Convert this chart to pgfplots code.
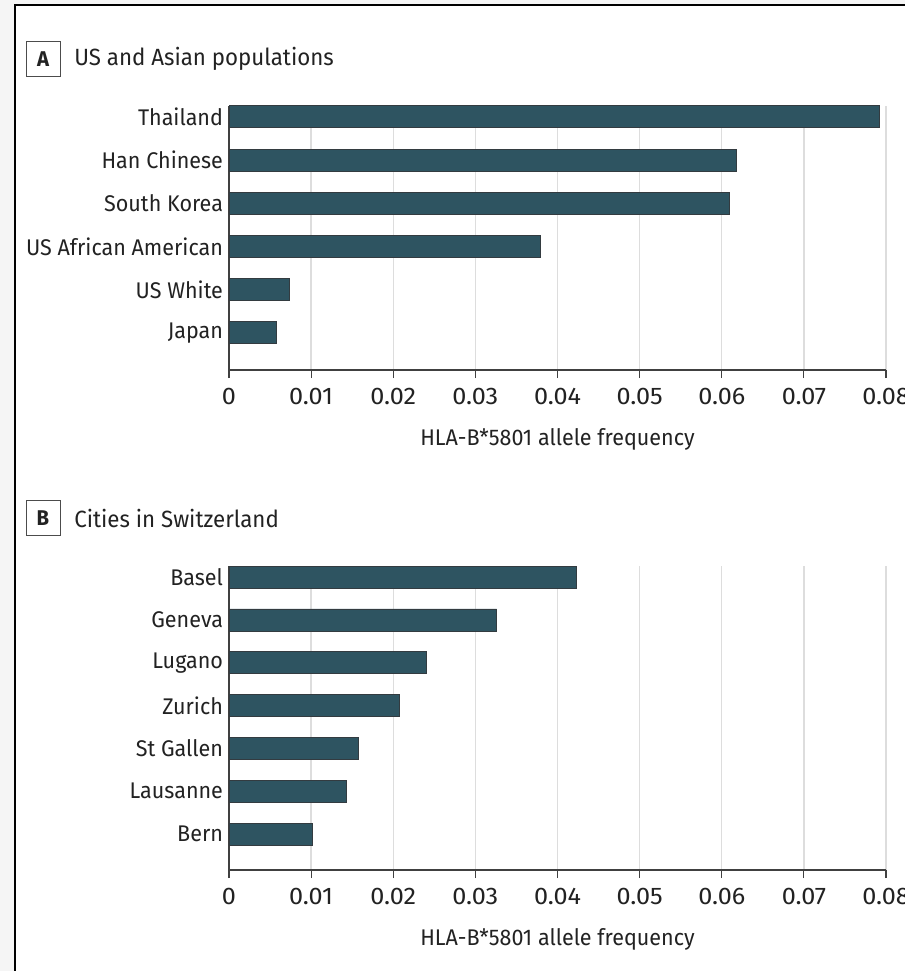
\documentclass[border=0pt]{standalone}
\usepackage{pgfplots}
\pgfplotsset{compat=1.18}
\usepackage{fontspec}
\setmainfont{Fira Sans}[FakeStretch=0.95]
\newfontfamily\tickfont{Fira Sans}[FakeStretch=1.05]
\definecolor{barfill}{HTML}{2E5461}
\definecolor{baredge}{HTML}{333B40}
\definecolor{txt}{HTML}{222222}
\definecolor{gridc}{HTML}{DDDDDD}
\newcommand\lf{\fontsize{17}{20}\selectfont\color{txt}}
\newcommand\tf{\tickfont\fontsize{18}{20}\selectfont\color{txt}}
\pgfplotsset{
  panel/.style={
    scale only axis,
    width=492.75pt,
    xbar, bar width=16.5pt,
    xmin=0, xmax=0.08,
    scaled x ticks=false,
    xtick={0,0.01,0.02,0.03,0.04,0.05,0.06,0.07,0.08},
    xticklabels={0,0.01,0.02,0.03,0.04,0.05,0.06,0.07,0.08},
    axis x line*=bottom, axis y line*=left,
    axis line style={draw=black!75, line width=0.8pt},
    xmajorgrids, grid style={gridc, line width=1pt},
    tick align=outside, major tick length=6pt,
    xtick style={draw=black!75, line width=0.8pt},
    ytick style={draw=none},
    ytick={0,...,7},
    font=\lf,
    yticklabel style={font=\lf, xshift=5pt},
    xticklabel style={font=\tf, yshift=-4pt},
    label style={font=\lf},
    xlabel={HLA-B*5801 allele frequency},
    xlabel style={yshift=-11pt},
    /pgf/number format/assume math mode=true,
  },
}
\begin{document}
\begin{tikzpicture}
\path[use as bounding box] (0,0) rectangle (678.75pt,-728.25pt);
\fill[black!4] (0,0) rectangle (678.75pt,-728.25pt);
\fill[white] (11.25pt,-3.75pt) rectangle (678.75pt,-728.25pt);
\draw[black, line width=1.6pt] (11.25pt,-728.25pt) -- (11.25pt,-3.75pt) -- (678.75pt,-3.75pt);
% Panel A title
\node[draw=black!70, line width=0.6pt, minimum width=25.5pt, minimum height=26pt, inner sep=0pt,
      font=\fontsize{16}{18}\selectfont\bfseries\color{txt}] at (32.25pt,-44.25pt) {A};
\node[anchor=west, inner sep=0pt, font=\fontsize{17.6}{20}\selectfont\color{txt}] at (55.5pt,-44.25pt) {US and Asian populations};
% Panel B title
\node[draw=black!70, line width=0.6pt, minimum width=25.5pt, minimum height=26pt, inner sep=0pt,
      font=\fontsize{16}{18}\selectfont\bfseries\color{txt}] at (32.25pt,-388.5pt) {B};
\node[anchor=west, inner sep=0pt, font=\fontsize{17.6}{20}\selectfont\color{txt}] at (55.5pt,-388.5pt) {Cities in Switzerland};

\begin{axis}[panel, at={(171.75pt,-277.5pt)}, anchor=south west,
  height=198pt, ymin=-0.86, ymax=5.25,
  yticklabels={Japan,US White,US African American,South Korea,Han Chinese,Thailand}]
\addplot[fill=barfill, draw=baredge, line width=0.6pt] coordinates {
 (0.0058,0) (0.0073,1) (0.0379,2) (0.0609,3) (0.0618,4) (0.0792,5)};
\end{axis}

\begin{axis}[panel, at={(171.75pt,-652.5pt)}, anchor=south west,
  height=228pt, ymin=-0.84, ymax=6.26,
  yticklabels={Bern,Lausanne,St Gallen,Zurich,Lugano,Geneva,Basel}]
\addplot[fill=barfill, draw=baredge, line width=0.6pt] coordinates {
 (0.0102,0) (0.0143,1) (0.0157,2) (0.0207,3) (0.0240,4) (0.0326,5) (0.0423,6)};
\end{axis}
\end{tikzpicture}
\end{document}
